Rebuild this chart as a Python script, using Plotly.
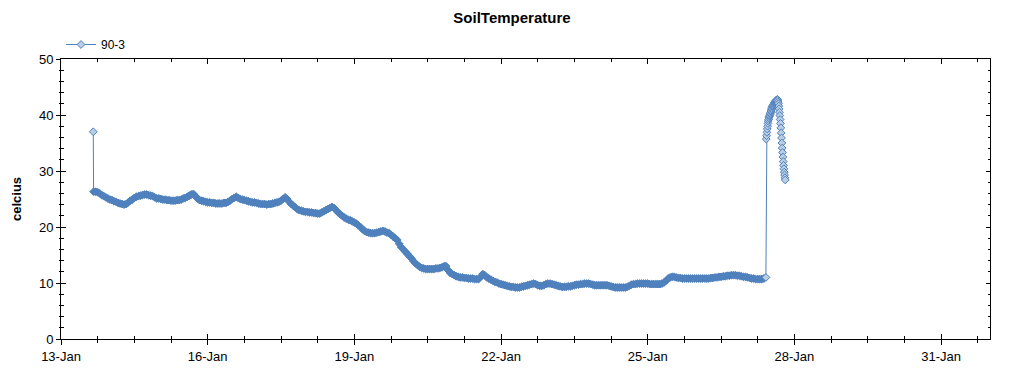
import pandas as pd
import plotly.graph_objects as go

# ---- data ----
series_name = "90-3"

# first isolated reading
start_time = "2014-01-13 15:50"
start_value = 37.0

# hourly readings, Jan 13 16:00 -> Jan 27 10:00
band_start = "2014-01-13 16:00"
band_values = [
    # Jan 13 (16h-23h)
    26.3, 26.3, 26.2, 26.0, 25.7, 25.5, 25.3, 25.1,
    # Jan 14
    24.9, 24.8, 24.6, 24.5, 24.3, 24.2, 24.1, 24.0, 24.1, 24.4, 24.7, 24.9,
    25.2, 25.4, 25.5, 25.6, 25.7, 25.8, 25.8, 25.7, 25.6, 25.5, 25.3, 25.1,
    # Jan 15
    25.1, 25.0, 24.9, 24.9, 24.8, 24.8, 24.7, 24.7, 24.7, 24.8, 24.8, 24.9,
    25.1, 25.2, 25.4, 25.6, 25.8, 25.9, 25.5, 25.1, 24.8, 24.7, 24.6, 24.5,
    # Jan 16
    24.4, 24.4, 24.3, 24.3, 24.2, 24.2, 24.2, 24.2, 24.3, 24.3, 24.5, 24.7,
    25.0, 25.2, 25.4, 25.2, 25.0, 24.9, 24.8, 24.7, 24.6, 24.5, 24.4, 24.4,
    # Jan 17
    24.3, 24.2, 24.1, 24.1, 24.1, 24.0, 24.1, 24.1, 24.2, 24.3, 24.4, 24.5,
    24.7, 25.0, 25.3, 25.0, 24.5, 24.1, 23.8, 23.5, 23.2, 23.0, 22.9, 22.8,
    # Jan 18
    22.7, 22.7, 22.6, 22.6, 22.5, 22.5, 22.4, 22.4, 22.6, 22.8, 23.0, 23.2,
    23.4, 23.6, 23.4, 23.0, 22.6, 22.3, 22.0, 21.7, 21.5, 21.3, 21.2, 21.0,
    # Jan 19
    20.8, 20.6, 20.3, 20.0, 19.6, 19.3, 19.1, 19.0, 18.9, 18.9, 18.9, 19.0,
    19.1, 19.2, 19.3, 19.2, 19.0, 18.9, 18.6, 18.3, 18.0, 17.7, 17.0, 16.4,
    # Jan 20
    16.0, 15.6, 15.2, 14.8, 14.4, 13.9, 13.5, 13.2, 12.9, 12.7, 12.6, 12.5,
    12.5, 12.5, 12.5, 12.5, 12.6, 12.6, 12.7, 12.8, 13.0, 13.0, 12.3, 11.8,
    # Jan 21
    11.6, 11.4, 11.2, 11.1, 11.0, 11.0, 10.9, 10.9, 10.8, 10.8, 10.8, 10.7,
    10.7, 10.7, 11.1, 11.6, 11.4, 11.0, 10.8, 10.6, 10.4, 10.2, 10.1, 9.9,
    # Jan 22
    9.8, 9.7, 9.6, 9.5, 9.4, 9.3, 9.3, 9.2, 9.2, 9.2, 9.3, 9.4,
    9.5, 9.6, 9.7, 9.8, 9.9, 9.8, 9.6, 9.5, 9.5, 9.6, 9.8, 9.9,
    # Jan 23
    9.9, 9.8, 9.7, 9.6, 9.5, 9.4, 9.3, 9.3, 9.3, 9.4, 9.4, 9.5,
    9.6, 9.7, 9.7, 9.8, 9.8, 9.9, 9.9, 9.9, 9.8, 9.7, 9.6, 9.6,
    # Jan 24
    9.6, 9.6, 9.6, 9.6, 9.6, 9.5, 9.4, 9.3, 9.2, 9.2, 9.2, 9.2,
    9.2, 9.2, 9.3, 9.5, 9.7, 9.8, 9.8, 9.9, 9.9, 9.9, 9.9, 9.9,
    # Jan 25
    9.9, 9.8, 9.8, 9.8, 9.8, 9.8, 9.8, 9.9, 10.1, 10.4, 10.8, 11.0,
    11.1, 11.1, 11.0, 10.9, 10.9, 10.8, 10.8, 10.8, 10.8, 10.8, 10.8, 10.8,
    # Jan 26
    10.8, 10.8, 10.8, 10.8, 10.8, 10.8, 10.8, 10.9, 10.9, 11.0, 11.0, 11.1,
    11.1, 11.2, 11.2, 11.3, 11.3, 11.4, 11.4, 11.4, 11.3, 11.3, 11.2, 11.1,
    # Jan 27 (0h-10h)
    11.1, 11.0, 10.9, 10.8, 10.8, 10.7, 10.7, 10.7, 10.7, 10.8, 11.0,
]

# 10-minute readings of the spike, Jan 27 from 10:10
spike_start = "2014-01-27 10:10"
spike_values = [
    35.7, 36.3, 36.9, 37.5, 38.0, 38.5, 38.9, 39.2, 39.5, 39.7, 39.9, 40.1,
    40.3, 40.5, 40.7, 40.9, 41.1, 41.3, 41.5, 41.6, 41.7, 41.8, 41.9, 42.0,
    42.1, 42.2, 42.3, 42.4, 42.5, 42.6, 42.6, 42.7, 42.7, 42.8,
    42.6, 42.3, 42.0, 41.6, 41.1, 40.5, 39.9, 39.2, 38.5, 37.7, 36.8, 35.9,
    35.0, 34.1, 33.3, 32.5, 31.7, 31.0, 30.4, 29.8, 29.3, 28.8, 28.4,
]

x_range = ["2014-01-13", "2014-02-01"]
x_tick0 = "2014-01-13"
y_range = [0, 50]

# ---- build series ----
band_times = pd.date_range(band_start, periods=len(band_values), freq="h")
spike_times = pd.date_range(spike_start, periods=len(spike_values), freq="10min")

times = [pd.Timestamp(start_time)] + list(band_times) + list(spike_times)
values = [start_value] + band_values + spike_values

BLUE = "#4F81BD"
LIGHT = "#B9CDE5"
# overlapping dense readings look solid blue; isolated readings show their light fill
fills = ([LIGHT] + [BLUE] * (len(band_values) - 1) + [LIGHT] + [LIGHT] * len(spike_values))

fig = go.Figure()
fig.add_trace(go.Scatter(
    x=times, y=values, name=series_name, mode="lines+markers",
    line=dict(color=BLUE, width=1),
    marker=dict(symbol="diamond", size=6, color=fills, line=dict(color=BLUE, width=1)),
))
# empty traces so that the frame axes (top/right and inner tick sets) get drawn
for xa, ya in (("x2", "y2"), ("x3", "y3")):
    fig.add_trace(go.Scatter(x=[], y=[], xaxis=xa, yaxis=ya, showlegend=False,
                             hoverinfo="skip", mode="lines"))

FONT = "Liberation Sans, Arial, sans-serif"
DAY = 86400000
common_x = dict(type="date", range=x_range, showgrid=False, zeroline=False, tick0=x_tick0,
                dtick=3 * DAY, tickcolor="black", tickwidth=1,
                linecolor="black", linewidth=1)
common_y = dict(type="linear", range=y_range, showgrid=False, zeroline=False, dtick=10, tick0=0,
                tickcolor="black", tickwidth=1, linecolor="black", linewidth=1)

fig.update_layout(
    width=1024, height=375,
    margin=dict(l=61, r=34, t=59, b=36),
    paper_bgcolor="white", plot_bgcolor="white",
    font=dict(family=FONT, size=13, color="black"),
    title=dict(text="<b>SoilTemperature</b>", x=0.5, xanchor="center", y=0.952, yanchor="middle",
               font=dict(size=15, family=FONT, color="black")),
    showlegend=True,
    legend=dict(x=0.0, y=1.0, xanchor="left", yanchor="bottom", orientation="h",
                bgcolor="rgba(0,0,0,0)", font=dict(size=12, family=FONT), itemwidth=30),
    xaxis=dict(**common_x, side="bottom", showline=True, ticks="outside", ticklen=5,
               tickformat="%d-%b", tickfont=dict(size=13),
               minor=dict(ticks="outside", ticklen=3, dtick=DAY * 0.75, tick0=x_tick0,
                          tickcolor="black", showgrid=False)),
    xaxis2=dict(**common_x, overlaying="x", side="top", showline=True, ticks="inside",
                ticklen=5, showticklabels=False,
                minor=dict(ticks="inside", ticklen=3, dtick=DAY * 0.75, tick0=x_tick0,
                           tickcolor="black", showgrid=False)),
    xaxis3=dict(**common_x, overlaying="x", side="bottom", showline=False, ticks="inside",
                ticklen=5, showticklabels=False,
                minor=dict(ticks="inside", ticklen=3, dtick=DAY * 0.75, tick0=x_tick0,
                           tickcolor="black", showgrid=False)),
    yaxis=dict(**common_y, side="left", showline=True, ticks="outside", ticklen=4,
               tickfont=dict(size=13),
               title=dict(text="<b>celcius</b>", font=dict(size=13, family=FONT), standoff=14),
               minor=dict(ticks="outside", ticklen=1, dtick=2, tickcolor="black", showgrid=False)),
    yaxis2=dict(**common_y, overlaying="y", side="right", showline=True, ticks="inside",
                ticklen=4, showticklabels=False,
                minor=dict(ticks="inside", ticklen=2, dtick=2, tickcolor="black", showgrid=False)),
    yaxis3=dict(**common_y, overlaying="y", side="left", showline=False, ticks="inside",
                ticklen=5, showticklabels=False,
                minor=dict(ticks="inside", ticklen=3, dtick=2, tickcolor="black", showgrid=False)),
)

fig.write_html("out.html", config={"displayModeBar": False},
               post_script="document.body.style.margin='0';")
